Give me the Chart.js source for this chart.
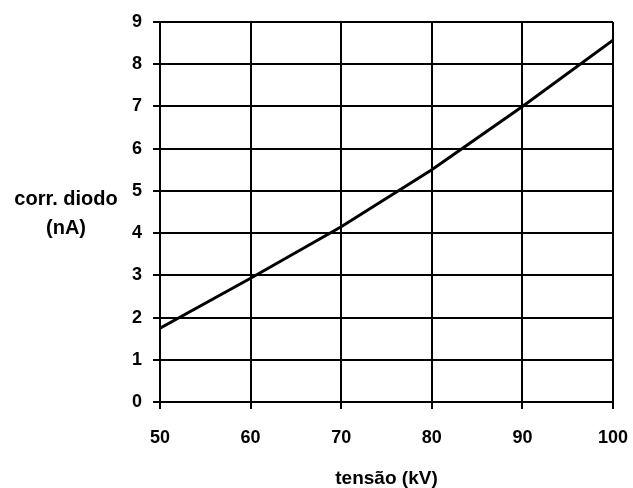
<!DOCTYPE html>
<html>
<head>
<meta charset="utf-8">
<script src="https://cdn.jsdelivr.net/npm/chart.js@4"></script>
<style>
    body { margin: 0; background: #fff; }
    #wrap { width: 633px; height: 488px; }
</style>
</head>
<body>
<div id="wrap"><canvas id="diodeGraph" width="633" height="488"></canvas></div>
<script>
// tensão (kV) vs corr. diodo (nA)
const voltages = [50, 60, 70, 80, 90, 100];
const diodeCurrent = [1.75, 2.93, 4.15, 5.5, 7.0, 8.57];
const xTicks = [50, 60, 70, 80, 90, 100];
const yTicks = [0, 1, 2, 3, 4, 5, 6, 7, 8, 9];
const xTitle = 'tensão (kV)';
const yTitle = ['corr. diodo', '(nA)'];

const fontFamily = 'Arial, "Liberation Sans", Helvetica, sans-serif';

// y title is horizontal, left of the ticks
const yTitlePlugin = {
    id: 'yTitlePlugin',
    afterDraw(chart) {
        const ctx = chart.ctx;
        ctx.save();
        ctx.fillStyle = '#000';
        ctx.font = 'bold 20px ' + fontFamily;
        ctx.textAlign = 'center';
        ctx.textBaseline = 'alphabetic';
        ctx.fillText(yTitle[0], 66, 205);
        ctx.fillText(yTitle[1], 66, 234);
        ctx.restore();
    }
};

function drawDiodeGraph() {
    const diodeGraph = document.getElementById('diodeGraph');

    new Chart(diodeGraph, {
        type: 'line',
        data: {
            datasets: [
                {
                    data: voltages.map((v, i) => ({ x: v, y: diodeCurrent[i] })),
                    borderColor: '#000',
                    borderWidth: 3,
                    pointRadius: 0,
                    tension: 0
                }
            ]
        },
        options: {
            responsive: false,
            animation: false,
            layout: {
                padding: { left: 0, right: 20, top: 22, bottom: 0 }
            },
            plugins: {
                legend: { display: false },
                tooltip: { enabled: false }
            },
            scales: {
                x: {
                    type: 'linear',
                    min: xTicks[0],
                    max: xTicks[xTicks.length - 1],
                    afterBuildTicks: (scale) => { scale.ticks = xTicks.map(v => ({ value: v })); },
                    afterFit: (scale) => {
                        scale.height = 86;
                        scale.paddingLeft = 0;
                        scale.paddingRight = 0;
                    },
                    grid: { color: '#000', lineWidth: 2, tickLength: 7, tickColor: '#000' },
                    border: { color: '#000', width: 2 },
                    ticks: {
                        color: '#000',
                        padding: 18,
                        font: { family: fontFamily, size: 18, weight: 'bold' }
                    },
                    title: {
                        display: true,
                        text: xTitle,
                        color: '#000',
                        padding: { top: 0, bottom: 0 },
                        font: { family: fontFamily, size: 19, weight: 'bold', lineHeight: 1 }
                    }
                },
                y: {
                    min: yTicks[0],
                    max: yTicks[yTicks.length - 1],
                    afterBuildTicks: (scale) => { scale.ticks = yTicks.map(v => ({ value: v })); },
                    afterFit: (scale) => { scale.width = 160; },
                    grid: { color: '#000', lineWidth: 2, tickLength: 7, tickColor: '#000' },
                    border: { color: '#000', width: 2 },
                    ticks: {
                        color: '#000',
                        padding: 11,
                        font: { family: fontFamily, size: 18, weight: 'bold' }
                    }
                }
            }
        },
        plugins: [yTitlePlugin]
    });
}

drawDiodeGraph();
</script>
</body>
</html>
